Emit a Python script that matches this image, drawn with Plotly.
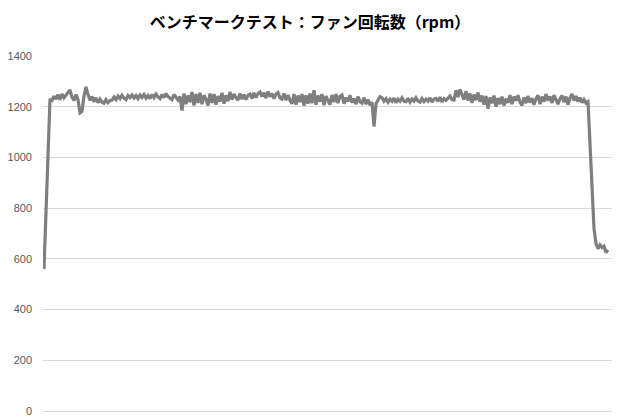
import plotly.graph_objects as go

title_text = "ベンチマークテスト：ファン回転数（rpm）"
y_ticks = [0, 200, 400, 600, 800, 1000, 1200, 1400]

rise = [560, 760, 1000, 1230]
seg1 = [1225, 1242, 1230, 1248, 1228, 1250, 1235, 1245, 1258, 1266, 1238, 1225, 1248, 1228, 1176,
        1182, 1242, 1278, 1248, 1226, 1240, 1220, 1235, 1216, 1230, 1218, 1214, 1228, 1216, 1224]
seg2 = [1226, 1238, 1228, 1242, 1232, 1245, 1234, 1228, 1244, 1236, 1246, 1234, 1244, 1232, 1246,
        1236, 1248, 1234, 1244, 1232, 1248, 1236, 1250, 1238, 1232, 1248, 1236, 1252, 1240, 1234,
        1228, 1248, 1236, 1226, 1240]
seg3 = [1185, 1252, 1210, 1245, 1218, 1258, 1205, 1250, 1215, 1255, 1210, 1245, 1230, 1205, 1252,
        1215, 1250, 1208, 1242, 1220, 1255, 1212, 1245, 1222, 1258, 1228, 1250, 1235, 1226, 1252,
        1230, 1248, 1228, 1245, 1250, 1232, 1255, 1236, 1252, 1258, 1240, 1255, 1234, 1260, 1240,
        1252, 1232, 1250, 1256, 1235, 1230, 1252, 1226, 1246, 1224, 1212, 1250, 1208, 1244, 1218,
        1250, 1204, 1245, 1212, 1252, 1214, 1265, 1208, 1244, 1220]
seg4 = [1250, 1206, 1242, 1225, 1208, 1246, 1218, 1250, 1214, 1240, 1246, 1212, 1236, 1220, 1245,
        1216, 1232, 1210, 1240, 1220, 1214, 1236, 1210, 1228, 1206, 1218, 1122]
seg5 = [1212, 1228, 1240, 1236, 1222, 1232, 1218, 1230, 1222, 1234, 1216, 1230, 1222, 1235, 1222,
        1220, 1233, 1218, 1230, 1222, 1235, 1222, 1218, 1232, 1220, 1230, 1222, 1235, 1218, 1230,
        1233, 1221, 1238, 1219, 1232, 1225, 1235, 1242, 1228, 1226]
seg6 = [1265, 1238, 1268, 1248, 1228, 1262, 1224, 1252, 1215, 1248, 1226, 1256, 1220, 1244, 1208,
        1242, 1192, 1236, 1214, 1244, 1200, 1234, 1210, 1240, 1205, 1232, 1215, 1246, 1210, 1240,
        1224, 1245, 1218, 1205, 1236, 1214, 1242, 1216, 1234, 1208, 1232, 1245, 1210, 1240, 1220,
        1250, 1224, 1240, 1215, 1246, 1228, 1210, 1232, 1244, 1218, 1240, 1208, 1235, 1250, 1224,
        1242, 1220, 1236, 1216, 1228]
drop = [1215, 1220, 1050, 880, 720, 660, 640, 655, 645, 650, 625, 635]

rpm = rise + seg1 + seg2 + seg3 + seg4 + seg5 + seg6 + drop
samples = list(range(len(rpm)))

fig = go.Figure()
fig.add_trace(go.Scatter(x=samples, y=rpm, mode="lines",
                         line=dict(color="#7f7f7f", width=3.2), showlegend=False,
                         hoverinfo="skip"))

fig.update_layout(
    width=620, height=420,
    margin=dict(l=43, r=8, t=56, b=9),
    paper_bgcolor="white", plot_bgcolor="white",
    title=dict(text="<b>" + title_text + "</b>", x=0.5, xref="container", xanchor="center",
               y=1 - 22 / 420, yref="container", yanchor="middle",
               font=dict(family="Noto Sans CJK JP, sans-serif", size=16, color="#000000")),
    font=dict(family="Noto Sans CJK JP, sans-serif", size=11, color="#595959"),
    xaxis=dict(range=[-0.5, len(rpm) + 1], showgrid=False, showticklabels=False,
               zeroline=False, showline=False, ticks="", automargin=False),
    yaxis=dict(range=[0, 1400], tickvals=y_ticks, showgrid=True, gridcolor="#d9d9d9",
               gridwidth=1, zeroline=True, zerolinecolor="#d9d9d9", zerolinewidth=1,
               showline=False, ticks="", ticklabelstandoff=10, automargin=False,
               tickfont=dict(family="Liberation Sans, Arial, sans-serif", size=11, color="#595959")),
)

fig.write_html("out.html", config={"displayModeBar": False},
               post_script="document.body.style.margin='0';")
